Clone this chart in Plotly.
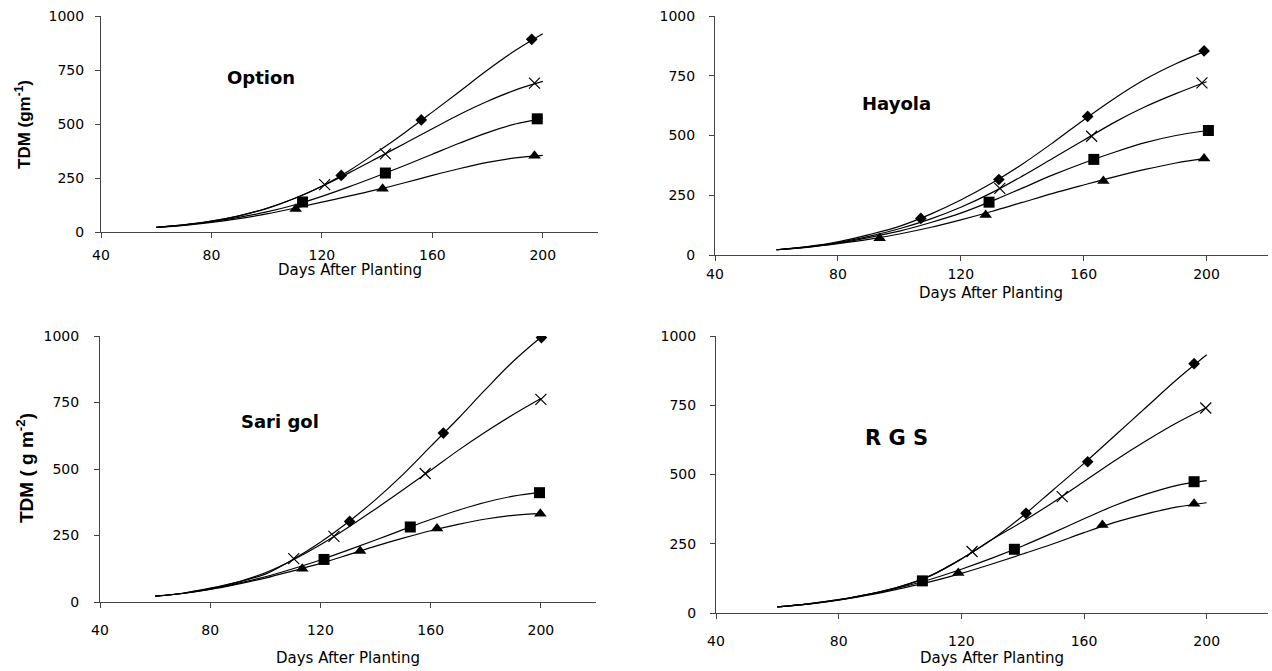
import plotly.graph_objects as go

# ---------------- data ----------------
curve_days = [60, 70, 80, 90, 100, 110, 120, 130, 140, 150, 160, 170, 180, 190, 200]

# Option
opt_diamond_x = [127, 156, 196]
opt_diamond_y = [262, 519, 892]
opt_x_x = [121, 143, 197]
opt_x_y = [219, 362, 689]
opt_square_x = [113, 143, 198]
opt_square_y = [139, 273, 524]
opt_tri_x = [110.5, 142, 197]
opt_tri_y = [106, 200, 353]
opt_curve_diamond = [22, 33, 50, 75, 110, 155, 212, 285, 370, 460, 555, 652, 750, 840, 918]
opt_curve_x = [22, 33, 50, 75, 108, 155, 212, 275, 342, 410, 478, 545, 605, 657, 697]
opt_curve_square = [22, 32, 48, 68, 93, 125, 165, 210, 258, 308, 360, 412, 460, 500, 525]
opt_curve_tri = [22, 31, 45, 62, 84, 110, 138, 167, 196, 228, 262, 294, 322, 343, 355]

# Hayola
hay_diamond_x = [107, 132.4, 161.3, 199.2]
hay_diamond_y = [153, 316, 580, 854]
hay_x_x = [132.7, 162.6, 198.5]
hay_x_y = [279, 497, 720]
hay_square_x = [129.2, 163.3, 200.6]
hay_square_y = [221, 400, 521]
hay_tri_x = [93.6, 128.1, 166.4, 199.2]
hay_tri_y = [70, 167, 310, 404]
hay_curve_diamond = [22, 35, 55, 85, 120, 170, 230, 300, 380, 470, 565, 655, 735, 800, 855]
hay_curve_x = [22, 34, 52, 78, 110, 150, 200, 260, 330, 405, 480, 555, 620, 675, 725]
hay_curve_square = [22, 33, 50, 73, 100, 135, 175, 225, 280, 335, 385, 430, 470, 500, 520]
hay_curve_tri = [22, 32, 47, 65, 88, 115, 147, 182, 220, 258, 293, 327, 358, 385, 405]

# Sari gol
sar_diamond_x = [130.6, 164.6, 200.2]
sar_diamond_y = [303, 635, 994]
sar_x_x = [110.3, 124.9, 158, 200]
sar_x_y = [163, 247, 483, 762]
sar_square_x = [121.3, 152.6, 199.5]
sar_square_y = [160, 282, 411]
sar_tri_x = [113.4, 134.4, 162.3, 199.8]
sar_tri_y = [125, 192, 276, 332]
sar_curve_diamond = [22, 33, 52, 75, 105, 160, 225, 300, 385, 480, 585, 690, 800, 905, 995]
sar_curve_x = [22, 33, 50, 75, 110, 158, 215, 280, 350, 422, 495, 570, 640, 705, 765]
sar_curve_square = [22, 32, 48, 70, 95, 125, 158, 195, 233, 272, 310, 345, 375, 398, 412]
sar_curve_tri = [22, 32, 47, 67, 90, 117, 145, 177, 210, 240, 268, 292, 312, 326, 332]

# R G S
rgs_diamond_x = [141.1, 161.2, 195.9]
rgs_diamond_y = [360, 546, 900]
rgs_x_x = [123.5, 152.9, 199.7]
rgs_x_y = [222, 420, 740]
rgs_square_x = [107.3, 137.3, 195.9]
rgs_square_y = [116, 230, 474]
rgs_tri_x = [119, 166, 195.9]
rgs_tri_y = [144, 318, 394]
rgs_curve_diamond = [22, 33, 48, 68, 95, 135, 195, 265, 350, 445, 540, 640, 740, 840, 932]
rgs_curve_x = [22, 33, 48, 68, 95, 135, 195, 265, 330, 400, 475, 550, 620, 685, 742]
rgs_curve_square = [22, 32, 47, 67, 92, 122, 158, 198, 242, 290, 340, 388, 428, 460, 478]
rgs_curve_tri = [22, 32, 46, 65, 88, 113, 143, 177, 213, 250, 290, 327, 357, 382, 398]

x_ticks = [40, 80, 120, 160, 200]
y_ticks = [0, 250, 500, 750, 1000]

panels = [
    dict(name="Option", curves=[opt_curve_diamond, opt_curve_x, opt_curve_square, opt_curve_tri],
         pts=[(opt_diamond_x, opt_diamond_y), (opt_x_x, opt_x_y), (opt_square_x, opt_square_y), (opt_tri_x, opt_tri_y)],
         label_pos=(98, 713), label_size=18),
    dict(name="Hayola", curves=[hay_curve_diamond, hay_curve_x, hay_curve_square, hay_curve_tri],
         pts=[(hay_diamond_x, hay_diamond_y), (hay_x_x, hay_x_y), (hay_square_x, hay_square_y), (hay_tri_x, hay_tri_y)],
         label_pos=(99, 635), label_size=18),
    dict(name="Sari gol", curves=[sar_curve_diamond, sar_curve_x, sar_curve_square, sar_curve_tri],
         pts=[(sar_diamond_x, sar_diamond_y), (sar_x_x, sar_x_y), (sar_square_x, sar_square_y), (sar_tri_x, sar_tri_y)],
         label_pos=(105.5, 677), label_size=18),
    dict(name="R G S", curves=[rgs_curve_diamond, rgs_curve_x, rgs_curve_square, rgs_curve_tri],
         pts=[(rgs_diamond_x, rgs_diamond_y), (rgs_x_x, rgs_x_y), (rgs_square_x, rgs_square_y), (rgs_tri_x, rgs_tri_y)],
         label_pos=(98.7, 631), label_size=21),
]

W, H = 1272, 671
# pixel geometry of each panel: (x_left, x_right, y_bottom, y_top)
geom = [(101, 598, 232, 16), (715, 1268, 255, 16), (100, 596, 602, 336), (716, 1268, 613, 336)]
xtitle_y = [270, 293, 658, 658]
xstand = [5, 1, 10, 10]
ystand = [8, 11, 12, 11]

markers = [
    dict(symbol="diamond", size=9, color="black"),
    dict(symbol="x-thin-open", size=11, color="black", line=dict(width=1.2, color="black")),
    dict(symbol="square", size=11, color="black"),
    dict(symbol="triangle-up", size=11, color="black"),
]

fig = go.Figure()
FONT = "DejaVu Sans"

for i, p in enumerate(panels):
    xa = "x" if i == 0 else f"x{i+1}"
    ya = "y" if i == 0 else f"y{i+1}"
    for c in p["curves"]:
        fig.add_trace(go.Scatter(x=curve_days, y=c, mode="lines", xaxis=xa, yaxis=ya,
                                 line=dict(color="black", width=1.2, shape="spline", smoothing=1.0),
                                 showlegend=False, hoverinfo="skip"))
    for (px_, py_), m in zip(p["pts"], markers):
        fig.add_trace(go.Scatter(x=px_, y=py_, mode="markers", xaxis=xa, yaxis=ya,
                                 marker=m, showlegend=False))
    xl, xr, yb, yt = geom[i]
    sfx = "" if i == 0 else str(i + 1)
    fig.update_layout(**{
        f"xaxis{sfx}": dict(domain=[xl / W, xr / W], range=[40, 220], anchor=ya,
                            tickvals=x_ticks, ticks="outside", ticklen=5, tickcolor="#444",
                            showline=True, linecolor="#444", linewidth=1, showgrid=False,
                            zeroline=False, ticklabelstandoff=xstand[i], automargin=False,
                            tickfont=dict(family=FONT, size=14, color="black")),
        f"yaxis{sfx}": dict(domain=[1 - yb / H, 1 - yt / H], range=[0, 1000], anchor=xa,
                            tickvals=y_ticks, ticks="outside", ticklen=5, tickcolor="#444",
                            showline=True, linecolor="#444", linewidth=1, showgrid=False,
                            zeroline=False, ticklabelstandoff=ystand[i], automargin=False,
                            tickfont=dict(family=FONT, size=14, color="black")),
    })
    fig.add_annotation(x=(xl + xr) / 2 / W, y=1 - xtitle_y[i] / H, xref="paper", yref="paper",
                       text="Days After Planting", showarrow=False, xanchor="center", yanchor="middle",
                       font=dict(family=FONT, size=15, color="black"))
    lx, ly = p["label_pos"]
    fig.add_annotation(x=lx, y=ly, xref=xa, yref=ya, text=f"<b>{p['name']}</b>", showarrow=False,
                       xanchor="center", yanchor="middle",
                       font=dict(family=FONT, size=p["label_size"], color="black"))

fig.add_annotation(x=23 / W, y=1 - 125 / H, xref="paper", yref="paper",
                   text="<b>TDM (gm<sup>-1</sup>)</b>", textangle=-90, showarrow=False,
                   xanchor="center", yanchor="middle",
                   font=dict(family="Liberation Sans", size=17, color="black"))
fig.add_annotation(x=25 / W, y=1 - 468 / H, xref="paper", yref="paper",
                   text="<b>TDM ( g m<sup>-2</sup>)</b>", textangle=-90, showarrow=False,
                   xanchor="center", yanchor="middle",
                   font=dict(family="Liberation Sans", size=19, color="black"))

fig.update_layout(width=W, height=H, margin=dict(l=0, r=0, t=0, b=0, pad=0, autoexpand=False),
                  paper_bgcolor="white", plot_bgcolor="white", showlegend=False)

fig.write_html("out.html", config={"displayModeBar": False},
               post_script="document.body.style.margin='0';document.body.style.overflow='hidden';")
